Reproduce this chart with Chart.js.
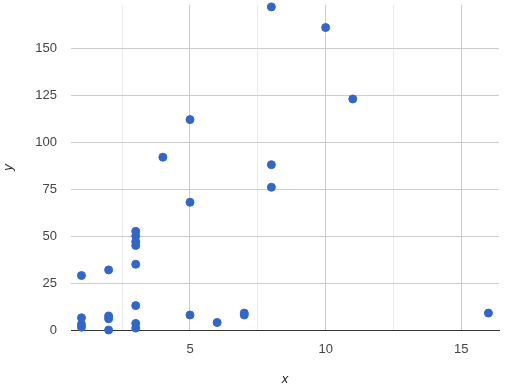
<!DOCTYPE html>
<html>
<head>
<meta charset="utf-8">
<script src="https://cdn.jsdelivr.net/npm/chart.js@4/dist/chart.umd.min.js"></script>
<style>
    html, body { margin: 0; padding: 0; background: #fff; }
    #wrap { width: 514px; height: 391px; }
</style>
</head>
<body>
<div id="wrap"><canvas id="chart" width="514" height="391"></canvas></div>
<script>
// ============================================================
// DATA
// ============================================================
const xValues = [1, 1, 1, 1, 2, 2, 2, 2, 3, 3, 3, 3, 3, 3, 3, 3, 4, 5, 5, 5, 6, 7, 7, 8, 8, 8, 10, 11, 16];
const yValues = [29, 6.5, 3, 1.5, 32, 7.5, 6, 0, 52.5, 50, 47, 45, 35, 13, 3.5, 1, 92, 112, 68, 8, 4, 8, 9, 172, 88, 76, 161, 123, 9];

const xTicks = [2.5, 5, 7.5, 10, 12.5, 15];
const xLabeled = [5, 10, 15];
const yTicks = [0, 25, 50, 75, 100, 125, 150];

const pointColor = "#3366CC";
const font = { family: "'Liberation Sans', Arial, sans-serif", size: 13 };

const points = xValues.map((x, i) => ({ x, y: yValues[i] }));

// keep the plot box exactly where the reference has it
function noScalePadding(scale) {
    scale.paddingTop = 0;
    scale.paddingBottom = 0;
    scale.paddingLeft = 0;
    scale.paddingRight = 0;
}

const ctx = document.getElementById("chart").getContext("2d");

new Chart(ctx, {
    type: "scatter",
    data: {
        datasets: [{
            label: "y",
            data: points,
            backgroundColor: pointColor,
            borderColor: pointColor,
            borderWidth: 1,
            pointRadius: 4,
            pointHoverRadius: 4,
            clip: false
        }]
    },
    options: {
        responsive: false,
        animation: false,
        layout: { padding: { top: 5, right: 15, left: 0, bottom: 0 } },
        plugins: {
            legend: { display: false },
            tooltip: { enabled: false }
        },
        scales: {
            x: {
                type: "linear",
                min: 0.614,
                max: 16.39,
                afterBuildTicks: scale => {
                    scale.ticks = xTicks.map(v => ({ value: v }));
                },
                afterFit: scale => {
                    scale.height = 61;
                    noScalePadding(scale);
                },
                ticks: {
                    padding: 12,
                    maxRotation: 0,
                    autoSkip: false,
                    color: "#444",
                    font,
                    callback: v => (xLabeled.includes(v) ? String(v) : "")
                },
                grid: {
                    drawTicks: false,
                    color: c => (xLabeled.includes(c.tick.value) ? "#cccccc" : "#ebebeb")
                },
                border: { display: true, color: "#333", width: 1 },
                title: {
                    display: true,
                    text: "x",
                    color: "#222",
                    font: { ...font, style: "italic" },
                    padding: { top: 0, bottom: 4 }
                }
            },
            y: {
                type: "linear",
                min: 0,
                max: 173,
                afterBuildTicks: scale => {
                    scale.ticks = yTicks.map(v => ({ value: v }));
                },
                afterFit: scale => {
                    scale.width = 71;
                    noScalePadding(scale);
                },
                ticks: {
                    padding: 14,
                    autoSkip: false,
                    color: "#444",
                    font
                },
                grid: {
                    drawTicks: false,
                    color: c => (c.tick.value === 0 ? "#333" : "#cccccc")
                },
                border: { display: false },
                title: {
                    display: true,
                    text: "y",
                    color: "#222",
                    font: { ...font, style: "italic" },
                    padding: { top: 1, bottom: 0 }
                }
            }
        }
    }
});
</script>
</body>
</html>
